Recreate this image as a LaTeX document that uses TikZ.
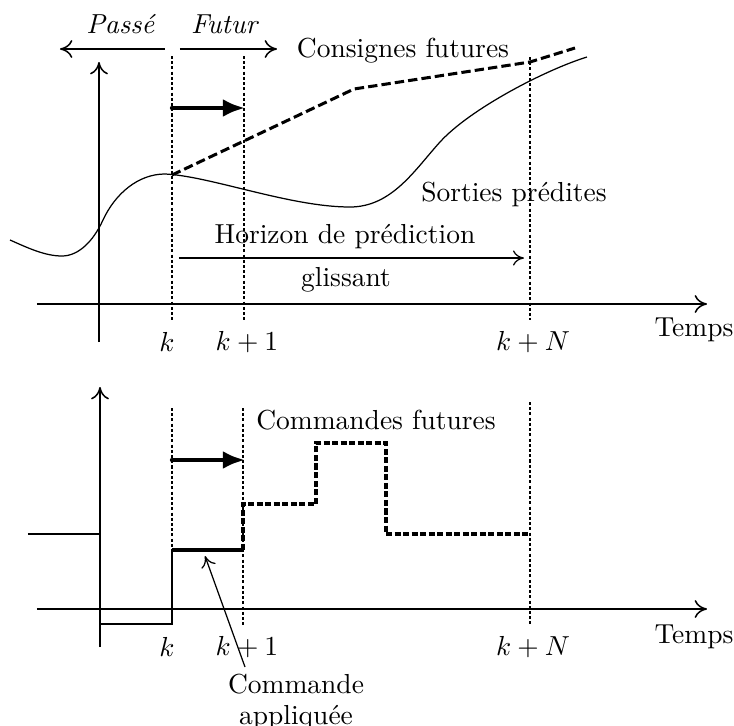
\documentclass[tikz,border=0pt]{standalone}
\usepackage{fontspec}
\usetikzlibrary{arrows.meta}
\begin{document}
\begin{tikzpicture}[x=0.3636pt,y=-0.3636pt,
  axis/.style={line width=0.55pt,-{To[length=4.5pt,width=6.5pt]}},
  thinarrow/.style={line width=0.45pt,-{To[length=4pt,width=5.5pt]}},
  timeline/.style={line width=0.8pt,dash pattern=on 1.1pt off 0.8pt},
  bigarrow/.style={line width=1.6pt,line cap=round,-{Latex[length=8pt,width=6.5pt]}},
  setpoint/.style={line width=1.1pt,dash pattern=on 3.4pt off 1.5pt},
  command/.style={line width=1.1pt,dash pattern=on 2.2pt off 0.9pt},
  lbl/.style={inner sep=0pt,font=\normalsize}]
\useasboundingbox (0,0) rectangle (734,726);

% ---------- top panel ----------
\coordinate (pA) at (165,49); \coordinate (pB) at (60,49);
\coordinate (fA) at (180,49); \coordinate (fB) at (277,49);
\draw[axis] (pA) -- (pB);
\draw[axis] (fA) -- (fB);
\node[lbl] (passe) at (121,24) {\textit{Passé}};
\node[lbl] (futur) at (225,24) {\textit{Futur}};

\coordinate (yTb) at (99,342); \coordinate (yTt) at (99,62);
\draw[axis] (yTb) -- (yTt);
\coordinate (xTl) at (37,304); \coordinate (xTr) at (707,304);
\draw[axis] (xTl) -- (xTr);

\coordinate (kTt) at (172,56); \coordinate (kTb) at (172,320);
\coordinate (k1Tt) at (244,56); \coordinate (k1Tb) at (244,320);
\coordinate (kNTt) at (530,57); \coordinate (kNTb) at (530,320);
\draw[timeline] (kTt) -- (kTb);
\draw[timeline] (k1Tt) -- (k1Tb);
\draw[timeline] (kNTt) -- (kNTb);

\coordinate (baT) at (172,108); \coordinate (baTe) at (245,108);
\draw[bigarrow] (baT) -- (baTe);

% consignes futures
\coordinate (c0) at (172,175); \coordinate (c1) at (354,89);
\coordinate (c2) at (530,62); \coordinate (c3) at (575,48);
\draw[setpoint] (c0) -- (c1) -- (c2) -- (c3);

% sorties predites
\coordinate (s0) at (10,240); \coordinate (s1) at (62,256);
\coordinate (s2) at (103,220); \coordinate (s3) at (165,174);
\coordinate (s4) at (350,207); \coordinate (s5) at (440,142);
\coordinate (s6) at (587,57);
\draw[line width=0.45pt] (s0) .. controls (28,248) and (45,256) .. (s1)
  .. controls (78,256) and (93,242) .. (s2)
  .. controls (115,194) and (138,174) .. (s3)
  .. controls (210,176) and (290,207) .. (s4)
  .. controls (392,207) and (415,169.5) .. (s5)
  .. controls (470,109) and (545,70) .. (s6);

\node[lbl] (consignes) at (403,51) {Consignes futures};
\node[lbl] (sorties) at (514,194) {Sorties prédites};
\node[lbl] (horizon) at (345,237) {Horizon de prédiction};
\node[lbl] (glissant) at (346,280) {glissant};
\coordinate (hA) at (179,258); \coordinate (hB) at (524,258);
\draw[thinarrow] (hA) -- (hB);

\node[lbl] (kT) at (167,342) {$k$};
\node[lbl] (k1T) at (247,342) {$k+1$};
\node[lbl] (kNT) at (533,342) {$k+N$};
\node[lbl] (tempsT) at (694,330) {Temps};

% ---------- bottom panel ----------
\coordinate (yBb) at (100,647); \coordinate (yBt) at (100,387);
\draw[axis] (yBb) -- (yBt);
\coordinate (xBl) at (37,609); \coordinate (xBr) at (707,609);
\draw[axis] (xBl) -- (xBr);

\coordinate (kBt) at (172,408); \coordinate (kBb) at (172,625);
\coordinate (k1Bt) at (243,408); \coordinate (k1Bb) at (243,625);
\coordinate (kNBt) at (530,402); \coordinate (kNBb) at (530,625);
\draw[timeline] (kBt) -- (kBb);
\draw[timeline] (k1Bt) -- (k1Bb);
\draw[timeline] (kNBt) -- (kNBb);

\coordinate (baB) at (172,460); \coordinate (baBe) at (245,460);
\draw[bigarrow] (baB) -- (baBe);

% past commands
\coordinate (u0) at (28,534); \coordinate (u1) at (100,534);
\draw[line width=0.45pt] (u0) -- (u1);
\coordinate (u2) at (100,624); \coordinate (u3) at (172,624);
\coordinate (u4) at (172,550);
\draw[line width=0.45pt] (u2) -- (u3) -- (u4);
% applied command
\coordinate (u5) at (243,550);
\draw[line width=1.3pt] (u4) -- (u5);
% future commands
\coordinate (v1) at (243,504); \coordinate (v2) at (316,504);
\coordinate (v3) at (316,443); \coordinate (v4) at (386,443);
\coordinate (v5) at (386,534); \coordinate (v6) at (528,534);
\draw[command] (u5) -- (v1) -- (v2) -- (v3) -- (v4) -- (v5) -- (v6);

\node[lbl] (commandes) at (376,420) {Commandes futures};
\node[lbl,align=center] (appliquee) at (296,702) {Commande\\[-1pt]appliquée};
\coordinate (aA) at (245,667); \coordinate (aB) at (205,556);
\draw[thinarrow] (aA) -- (aB);

\node[lbl] (kB) at (167,647) {$k$};
\node[lbl] (k1B) at (247,647) {$k+1$};
\node[lbl] (kNB) at (533,647) {$k+N$};
\node[lbl] (tempsB) at (694,637) {Temps};
\end{tikzpicture}
\end{document}
